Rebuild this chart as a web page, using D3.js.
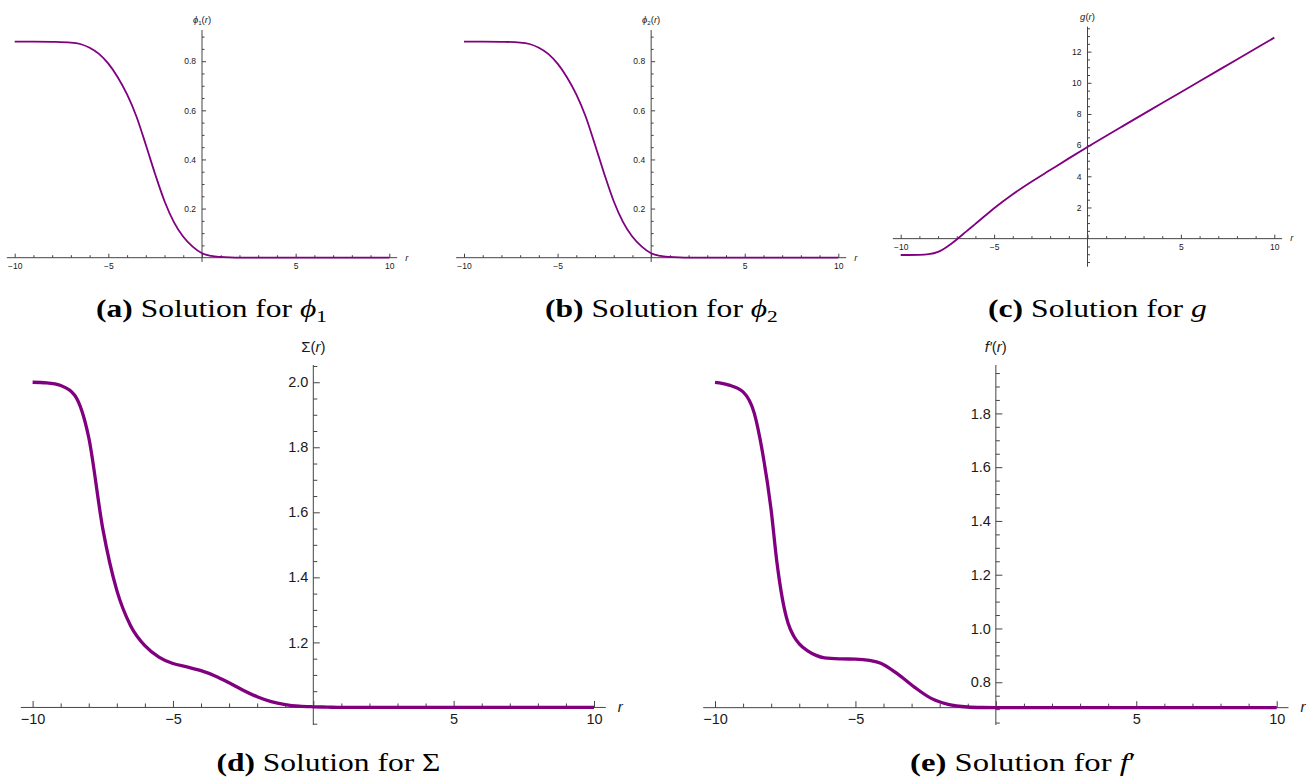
<!DOCTYPE html>
<html lang="en">
<head>
<meta charset="UTF-8">
<title>Solutions for phi1, phi2, g, Sigma, f'</title>
<script src="https://d3js.org/d3.v7.min.js"></script>
<style>
    body { margin: 0; background: #fff; }
    svg { display: block; }
    .tick text { fill: #1a1a1a; font-family: "Liberation Sans", Arial, sans-serif; }
    .tick line { stroke: #444; }
</style>
</head>
<body>
<svg width="1314" height="779"></svg>
<script>
// ---- data ----
const rPhi = [-10, -9, -8, -7, -6.5, -6, -5.5, -5, -4.5, -4, -3.5, -3, -2.5, -2, -1.5, -1, -0.5, 0, 0.5, 1, 1.5, 2, 3, 4, 5, 6, 7, 8, 9, 10];
const phi1Vals = [0.88, 0.88, 0.879, 0.876, 0.87, 0.855, 0.83, 0.79, 0.735, 0.665, 0.575, 0.46, 0.34, 0.23, 0.145, 0.085, 0.045, 0.018, 0.007, 0.003, 0.001, 0, 0, 0, 0, 0, 0, 0, 0, 0];
const phi2Vals = [0.88, 0.88, 0.879, 0.876, 0.87, 0.855, 0.83, 0.79, 0.735, 0.665, 0.575, 0.46, 0.34, 0.23, 0.145, 0.085, 0.045, 0.018, 0.007, 0.003, 0.001, 0, 0, 0, 0, 0, 0, 0, 0, 0];

const rG = [-10, -9, -8.5, -8, -7.5, -7, -6.5, -6, -5.5, -5, -4, -3, -2, -1, 0, 2, 4, 6, 8, 10];
const gVals = [-1.05, -1.04, -1.0, -0.85, -0.5, -0.05, 0.45, 0.95, 1.45, 1.95, 2.85, 3.65, 4.4, 5.15, 5.88, 7.3, 8.7, 10.1, 11.5, 12.9];

const rSigma = [-10, -9.5, -9, -8.5, -8, -7.5, -7, -6.5, -6, -5.5, -5, -4.5, -4, -3.5, -3, -2.5, -2, -1.5, -1, -0.5, 0, 0.5, 1, 2, 4, 6, 8, 10];
const sigmaVals = [2.0, 1.998, 1.99, 1.96, 1.83, 1.55, 1.36, 1.25, 1.19, 1.155, 1.135, 1.125, 1.113, 1.097, 1.076, 1.053, 1.033, 1.018, 1.009, 1.004, 1.002, 1.001, 1.0, 1.0, 1.0, 1.0, 1.0, 1.0];

const rFp = [-10, -9.5, -9, -8.6, -8.3, -8, -7.8, -7.6, -7.4, -7.2, -7, -6.7, -6.4, -6.1, -5.5, -5, -4.5, -4.1, -3.5, -2.9, -2.3, -1.7, -1, -0.5, 0, 1, 2, 4, 6, 8, 10];
const fpVals = [1.915, 1.905, 1.88, 1.80, 1.65, 1.44, 1.25, 1.11, 1.02, 0.972, 0.943, 0.917, 0.9, 0.891, 0.887, 0.886, 0.881, 0.871, 0.831, 0.782, 0.74, 0.718, 0.708, 0.706, 0.7055, 0.7055, 0.7055, 0.7055, 0.7055, 0.7055, 0.7055];

const xMajor = [-10, -5, 0, 5, 10];
const xMinor = d3.range(-10, 11, 1).filter(v => v % 5 !== 0);

// ---- panel layout ----
const panels = [
    { r: rPhi, v: phi1Vals, px: [14.7, 389.3], yDom: [-0.0175, 0.927], py: [262, 30], origin: 0,
      yMajor: [0.2, 0.4, 0.6, 0.8], yStep: 0.05, fmt: d3.format(".1f"),
      small: true, ylab: ["ϕ", "1", "(", "r", ")"], cap: { x: 211.5, y: 317, w: 231, lab: "(a)", math: ["ϕ", "1"] } },
    { r: rPhi, v: phi2Vals, px: [464, 838.3], yDom: [-0.0175, 0.927], py: [262, 30], origin: 0,
      yMajor: [0.2, 0.4, 0.6, 0.8], yStep: 0.05, fmt: d3.format(".1f"),
      small: true, ylab: ["ϕ", "2", "(", "r", ")"], cap: { x: 661.5, y: 317, w: 233, lab: "(b)", math: ["ϕ", "2"] } },
    { r: rG, v: gVals, px: [900.7, 1274.3], yDom: [-1.8, 13.6], py: [266.7, 26.7], origin: 0,
      yMajor: [2, 4, 6, 8, 10, 12], yStep: 0.5, fmt: d3.format("d"),
      small: true, ylab: ["g", "", "(", "r", ")"], cap: { x: 1097.5, y: 317, w: 219, lab: "(c)", math: ["g", ""] } },
    { r: rSigma, v: sigmaVals, px: [32.6, 594], yDom: [0.946, 2.053], py: [725, 365], origin: 1.0,
      yMajor: [1.2, 1.4, 1.6, 1.8, 2.0], yStep: 0.05, fmt: d3.format(".1f"),
      small: false, ylab: ["Σ", "", "(", "r", ")"], cap: { x: 328.5, y: 771, w: 224, lab: "(d)", math: ["Σ", ""], upright: true } },
    { r: rFp, v: fpVals, px: [715, 1276.7], yDom: [0.641, 1.98], py: [725, 365], origin: 0.7055,
      yMajor: [0.8, 1.0, 1.2, 1.4, 1.6, 1.8], yStep: 0.05, fmt: d3.format(".1f"),
      small: false, ylab: ["f′", "", "(", "r", ")"], cap: { x: 1023, y: 771, w: 226, lab: "(e)", math: ["f", "′"], prime: true } }
];

// pick the first serif face that is really installed
function pickFont(list) {
    const ctx = document.createElement("canvas").getContext("2d");
    const probe = "Solution for mmmwwwiiil 0123";
    ctx.font = "40px monospace";
    const base = ctx.measureText(probe).width;
    for (const f of list) {
        ctx.font = `40px "${f}", monospace`;
        if (Math.abs(ctx.measureText(probe).width - base) > 0.5) return `"${f}"`;
    }
    return "serif";
}
const serif = pickFont(["Liberation Serif", "DejaVu Serif", "Noto Serif", "Times New Roman", "Tinos", "FreeSerif", "Nimbus Roman", "Latin Modern Roman"]) + ", serif";

const svg = d3.select("svg");
const purple = "#800080";

panels.forEach(p => {
    const x = d3.scaleLinear().domain([-10, 10]).range(p.px);
    const y = d3.scaleLinear().domain(p.yDom).range(p.py);
    const fs = p.small ? 8.5 : 14.5;
    const major = p.small ? 4 : 6.5;
    const minor = p.small ? 2.5 : 4;
    const g = svg.append("g");
    const y0 = y(p.origin);
    const xz = x(0);

    // horizontal axis
    g.append("line")
        .attr("x1", x(-10.42)).attr("x2", x(10.42))
        .attr("y1", y0).attr("y2", y0)
        .attr("stroke", "#444").attr("stroke-width", 1);

    const xa = g.append("g").attr("transform", `translate(0,${y0})`)
        .call(d3.axisBottom(x).tickValues(xMajor).tickSize(-major).tickPadding(p.small ? 5.6 : 6)
            .tickFormat(d => d === 0 ? "" : d3.format("d")(d)));
    xa.select(".domain").remove();
    xa.selectAll("text").attr("font-size", fs);

    const xm = g.append("g").attr("transform", `translate(0,${y0})`)
        .call(d3.axisBottom(x).tickValues(xMinor).tickSize(-minor).tickFormat(""));
    xm.select(".domain").remove();

    // vertical axis
    g.append("line")
        .attr("x1", xz).attr("x2", xz)
        .attr("y1", p.py[0]).attr("y2", p.py[1])
        .attr("stroke", "#444").attr("stroke-width", 1);

    const ya = g.append("g").attr("transform", `translate(${xz},0)`)
        .call(d3.axisLeft(y).tickValues(p.yMajor).tickSize(-major).tickPadding(p.small ? 6 : 5)
            .tickFormat(p.fmt));
    ya.select(".domain").remove();
    ya.selectAll("text").attr("font-size", fs);

    const eps = 1e-6;
    const yMin = d3.range(Math.ceil(p.yDom[0] / p.yStep) * p.yStep, p.yDom[1], p.yStep)
        .filter(v => !p.yMajor.some(m => Math.abs(m - v) < eps) && Math.abs(v - p.origin) > eps);
    const ym = g.append("g").attr("transform", `translate(${xz},0)`)
        .call(d3.axisLeft(y).tickValues(yMin).tickSize(-minor).tickFormat(""));
    ym.select(".domain").remove();

    // curve
    const pts = p.r.map((r, i) => [r, p.v[i]]);
    g.append("path")
        .datum(pts)
        .attr("fill", "none")
        .attr("stroke", purple)
        .attr("stroke-width", p.small ? 1.8 : 3.3)
        .attr("stroke-linejoin", "round")
        .attr("d", d3.line().x(d => x(d[0])).y(d => y(d[1])).curve(d3.curveMonotoneX));

    // axis labels
    const lfs = p.small ? 9.5 : 15;
    const lab = g.append("text")
        .attr("x", xz).attr("y", p.py[1] - (p.small ? 7 : 13))
        .attr("text-anchor", "middle")
        .style("font-family", '"Liberation Sans", Arial, sans-serif')
        .attr("font-size", lfs).attr("fill", "#1a1a1a");
    lab.append("tspan").attr("font-style", p.ylab[0] === "Σ" ? "normal" : "italic").text(p.ylab[0]);
    if (p.ylab[1]) lab.append("tspan").attr("font-size", lfs * 0.65).attr("dy", lfs * 0.2).text(p.ylab[1]);
    lab.append("tspan").attr("dy", p.ylab[1] ? -lfs * 0.2 : 0).text("(");
    lab.append("tspan").attr("font-style", "italic").text("r");
    lab.append("tspan").text(")");

    g.append("text")
        .attr("x", x(10.42) + (p.small ? 8 : 12)).attr("y", y0 + lfs * 0.3)
        .style("font-family", '"Liberation Sans", Arial, sans-serif')
        .attr("font-style", "italic")
        .attr("font-size", lfs).attr("fill", "#1a1a1a")
        .text("r");

    // caption
    const c = p.cap;
    const cg = svg.append("g");
    const ct = cg.append("text")
        .attr("x", 0).attr("y", 0)
        .style("font-family", serif)
        .attr("fill", "#000")
        .attr("font-size", 25);
    ct.append("tspan").attr("font-weight", "bold").text(c.lab);
    ct.append("tspan").text(" Solution for ");
    ct.append("tspan").attr("font-style", c.upright ? "normal" : "italic").text(c.math[0]);
    if (c.math[1] && !c.prime) ct.append("tspan").attr("font-size", 17).attr("dy", 5).text(c.math[1]);
    if (c.prime) ct.append("tspan").text(c.math[1]);
    const bw = ct.node().getBBox().width;
    const sx = c.w / bw;
    cg.attr("transform", `translate(${c.x - c.w / 2},${c.y}) scale(${sx},1)`);
});
</script>
</body>
</html>
